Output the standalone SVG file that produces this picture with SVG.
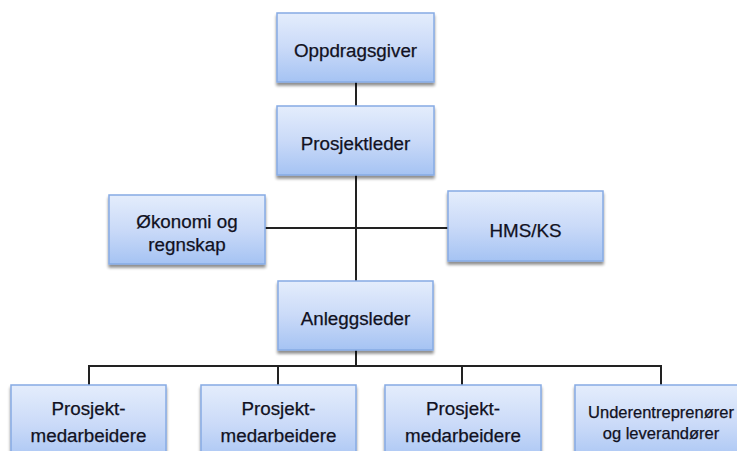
<svg xmlns="http://www.w3.org/2000/svg" width="737" height="451" viewBox="0 0 737 451">
  <defs>
    <linearGradient id="boxFill" x1="0" y1="0" x2="0" y2="1">
      <stop offset="0" stop-color="#e4edfc"/>
      <stop offset="0.5" stop-color="#cadaf8"/>
      <stop offset="1" stop-color="#a5c3f3"/>
    </linearGradient>
    <filter id="shadow" x="-10%" y="-10%" width="120%" height="130%">
      <feGaussianBlur in="SourceAlpha" stdDeviation="1.5"/>
      <feOffset dx="0" dy="2.5" result="b"/>
      <feComponentTransfer><feFuncA type="linear" slope="0.45"/></feComponentTransfer>
      <feMerge><feMergeNode/><feMergeNode in="SourceGraphic"/></feMerge>
    </filter>
  </defs>
  <style>
    .box { fill: url(#boxFill); stroke: #86abe4; stroke-width: 1.5; filter: url(#shadow); }
    .lbl { font-family: "Liberation Sans", Arial, sans-serif; font-size: 18.8px; fill: #111122; text-anchor: middle; stroke: #111122; stroke-width: 0.25; }
    .sm { font-size: 16.5px; }
    .wire { stroke: #222; stroke-width: 2; fill: none; }
  </style>
  <rect width="737" height="451" fill="#ffffff"/>

  <!-- connectors -->
  <g id="connectors">
    <line class="wire" x1="356" y1="82" x2="356" y2="106"/>
    <line class="wire" x1="356" y1="175" x2="356" y2="281"/>
    <line class="wire" x1="265" y1="228" x2="448" y2="228"/>
    <line class="wire" x1="356" y1="350" x2="356" y2="366"/>
    <polyline class="wire" points="89,385 89,366 661,366 661,385"/>
    <line class="wire" x1="278" y1="366" x2="278" y2="385"/>
    <line class="wire" x1="462" y1="366" x2="462" y2="385"/>
  </g>

  <g id="oppdragsgiver">
    <rect class="box" x="277" y="13" width="157" height="69"/>
    <text class="lbl" x="355.5" y="57">Oppdragsgiver</text>
  </g>
  <g id="prosjektleder">
    <rect class="box" x="277" y="106" width="157" height="69"/>
    <text class="lbl" x="355.5" y="150">Prosjektleder</text>
  </g>
  <g id="okonomi">
    <rect class="box" x="109" y="195" width="156" height="69"/>
    <text class="lbl" x="187" y="228">Økonomi og</text>
    <text class="lbl" x="187" y="251">regnskap</text>
  </g>
  <g id="hms">
    <rect class="box" x="448" y="191" width="155" height="70"/>
    <text class="lbl" x="525.5" y="237">HMS/KS</text>
  </g>
  <g id="anleggsleder">
    <rect class="box" x="278" y="281" width="155" height="69"/>
    <text class="lbl" x="355.5" y="325">Anleggsleder</text>
  </g>
  <g id="medarbeidere1">
    <rect class="box" x="11" y="385" width="155" height="80"/>
    <text class="lbl" x="88.5" y="415">Prosjekt-</text>
    <text class="lbl" x="88.5" y="442">medarbeidere</text>
  </g>
  <g id="medarbeidere2">
    <rect class="box" x="201" y="385" width="155" height="80"/>
    <text class="lbl" x="278.5" y="415">Prosjekt-</text>
    <text class="lbl" x="278.5" y="442">medarbeidere</text>
  </g>
  <g id="medarbeidere3">
    <rect class="box" x="385" y="385" width="156" height="80"/>
    <text class="lbl" x="463" y="415">Prosjekt-</text>
    <text class="lbl" x="463" y="442">medarbeidere</text>
  </g>
  <g id="underentreprenorer">
    <rect class="box" x="575" y="385" width="172" height="80"/>
    <text class="lbl sm" x="661" y="418">Underentreprenører</text>
    <text class="lbl sm" x="661" y="439">og leverandører</text>
  </g>
</svg>
